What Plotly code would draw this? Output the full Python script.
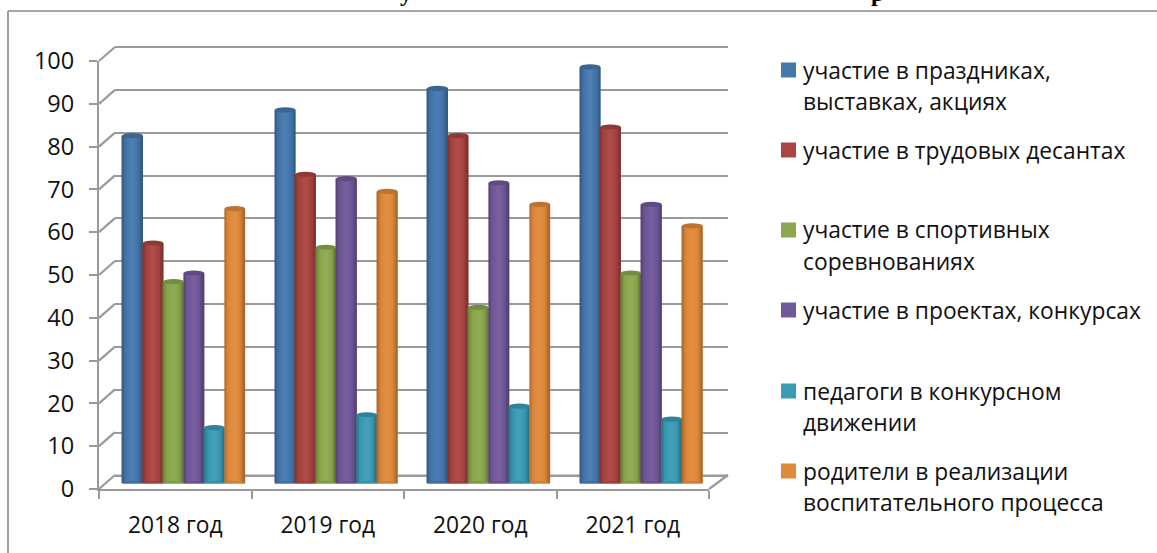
import plotly.graph_objects as go

W, H = 1157, 553
categories = ["2018 год", "2019 год", "2020 год", "2021 год"]
series_names = [
    "участие в праздниках, выставках, акциях",
    "участие в трудовых десантах",
    "участие в спортивных соревнованиях",
    "участие в проектах, конкурсах",
    "педагоги в конкурсном движении",
    "родители в реализации воспитательного процесса",
]
v_prazdniki = [81, 87, 92, 97]
v_trud = [56, 72, 81, 83]
v_sport = [47, 55, 41, 49]
v_proekty = [49, 71, 70, 65]
v_pedagogi = [13, 16, 18, 15]
v_roditeli = [64, 68, 65, 60]
series_values = [v_prazdniki, v_trud, v_sport, v_proekty, v_pedagogi, v_roditeli]
y_ticks = list(range(0, 101, 10))

base_colors = ["#4678ae", "#ab4542", "#8ba84e", "#72599a", "#3b9bb5", "#e08a3c"]
legend_lines = [
    (70, ["участие в праздниках,", "выставках, акциях"]),
    (150, ["участие в трудовых десантах"]),
    (230, ["участие в спортивных", "соревнованиях"]),
    (310, ["участие в проектах, конкурсах"]),
    (391, ["педагоги в конкурсном", "движении"]),
    (471, ["родители в реализации", "воспитательного процесса"]),
]
FONT = "Open Sans"
GRID = "#9a9a9a"


def fx(px):
    return px / W


def fy(px):
    return 1 - px / H


def shade(hexc, f):
    r, g, b = (int(hexc[i:i + 2], 16) for i in (1, 3, 5))
    if f < 1:
        return f"rgb({int(r*f)},{int(g*f)},{int(b*f)})"
    t = f - 1
    return f"rgb({int(r+(255-r)*t)},{int(g+(255-g)*t)},{int(b+(255-b)*t)})"


# strip shading across each cylinder (left edge -> right edge)
profile = [0.78, 0.9, 0.98, 1.0, 1.03, 1.05, 1.04, 1.0, 0.97, 0.89, 0.76]
n_strips = len(profile)
bar_w = 0.134
start = -0.402

fig = go.Figure()
shapes = []

# front axes carry the labels and ticks
fig.add_trace(go.Scatter(x=categories, y=[None] * 4, xaxis="x", yaxis="y", mode="lines",
                         showlegend=False, hoverinfo="skip"))
# back wall floor edge
fig.add_trace(go.Scatter(x=[0, 1], y=[0, 0], xaxis="x2", yaxis="y2", mode="lines",
                         line=dict(color=GRID, width=2.2), showlegend=False, hoverinfo="skip"))

for i, (name, vals, col) in enumerate(zip(series_names, series_values, base_colors)):
    off = start + i * bar_w
    fig.add_trace(go.Bar(name=name, x=categories, y=vals, width=bar_w, offset=off,
                         marker=dict(color=col, line=dict(width=0)),
                         xaxis="x3", yaxis="y3", showlegend=False))
    for j, f in enumerate(profile):
        sw = bar_w / n_strips
        fig.add_trace(go.Bar(x=categories, y=vals, width=sw * 1.05, offset=off + j * sw,
                             marker=dict(color=shade(col, f), line=dict(width=0)),
                             xaxis="x3", yaxis="y3", showlegend=False, hoverinfo="skip"))
    for k, v in enumerate(vals):
        x0, x1 = k + off, k + off + bar_w
        shapes.append(dict(type="circle", xref="x3", yref="y3", x0=x0, x1=x1, y0=v - 0.6, y1=v + 0.6,
                           fillcolor=shade(col, 0.84), line=dict(width=0), layer="above"))
        shapes.append(dict(type="circle", xref="x3", yref="y3", x0=x0, x1=x1, y0=-0.6, y1=0.6,
                           fillcolor=shade(col, 0.92), line=dict(width=0), layer="above"))

# depth lines joining the front axis to the back wall
for t in y_ticks:
    py = 489 - t * 4.28
    shapes.append(dict(type="line", xref="paper", yref="paper", x0=fx(99), x1=fx(115), y0=fy(py), y1=fy(py - 14),
                       line=dict(color=GRID, width=2.2), layer="below"))
shapes.append(dict(type="line", xref="paper", yref="paper", x0=fx(709), x1=fx(728), y0=fy(489), y1=fy(475),
                   line=dict(color=GRID, width=2.2), layer="below"))
# outer frame, open on the right and at the bottom
shapes.append(dict(type="line", xref="paper", yref="paper", x0=fx(8), x1=fx(8), y0=fy(11), y1=0,
                   line=dict(color="#8a8a8a", width=1.6)))
shapes.append(dict(type="line", xref="paper", yref="paper", x0=fx(8), x1=1, y0=fy(11), y1=fy(11),
                   line=dict(color="#8a8a8a", width=1.6)))

annotations = []
for (yc, lines), col in zip(legend_lines, base_colors):
    shapes.append(dict(type="rect", xref="paper", yref="paper", x0=fx(781), x1=fx(796), y0=fy(yc + 7.5), y1=fy(yc - 7.5),
                       fillcolor=col, line=dict(width=0)))
    for n, line in enumerate(lines):
        annotations.append(dict(text=line, xref="paper", yref="paper", x=fx(801), y=fy(yc + n * 31.5),
                                xanchor="left", yanchor="middle", showarrow=False,
                                font=dict(family=FONT, size=22.8, color="#111111")))

# clipped remnants of the heading above the chart frame
for ch, px in (("у", 406), ("р", 877)):
    annotations.append(dict(text=f"<b>{ch}</b>", xref="paper", yref="paper", x=fx(px), y=fy(-7),
                            xanchor="center", yanchor="middle", showarrow=False,
                            font=dict(family="Liberation Serif", size=24, color="black")))

px_per_unit = 4.285
fig.update_layout(
    width=W, height=H, margin=dict(l=0, r=0, t=0, b=0, autoexpand=False), autosize=False,
    paper_bgcolor="white", plot_bgcolor="rgba(0,0,0,0)", barmode="overlay",
    shapes=shapes, annotations=annotations, showlegend=False,
    xaxis=dict(type="category", categoryorder="array", categoryarray=categories, domain=[fx(99), fx(709)],
               range=[-0.5, 3.5], tickson="boundaries", ticks="outside", ticklen=8, tickwidth=2, tickcolor=GRID,
               showline=True, linecolor=GRID, linewidth=2.2, showgrid=False, anchor="y",
               tickfont=dict(family=FONT, size=22.8, color="#111111"), ticklabelstandoff=15),
    yaxis=dict(range=[0, 100], domain=[fy(489), fy(61)], tickmode="array", tickvals=y_ticks,
               ticks="outside", ticklen=8, tickwidth=2, tickcolor=GRID, showline=True, linecolor=GRID, linewidth=2.2,
               showgrid=False, zeroline=False, anchor="x", ticklabelstandoff=10,
               tickfont=dict(family=FONT, size=23.5, color="#111111")),
    # back wall gridlines; range padded so the 100 line is drawn
    xaxis2=dict(domain=[fx(115), fx(728)], range=[0, 1], visible=False, anchor="y2"),
    yaxis2=dict(range=[-1, 101], domain=[fy(475.5 + px_per_unit), fy(47 - px_per_unit)],
                anchor="x2", side="left", tickmode="array", tickvals=y_ticks, showticklabels=False, ticks="",
                showgrid=True, gridcolor=GRID, gridwidth=2.2, zeroline=False, showline=False),
    # bars stand at mid-depth of the floor, in front of the back wall
    xaxis3=dict(type="category", categoryorder="array", categoryarray=categories, domain=[fx(107.5), fx(717.5)],
                range=[-0.5, 3.5], visible=False, anchor="y3"),
    yaxis3=dict(range=[0, 100], domain=[fy(483.5), fy(54)], visible=False, anchor="x3"),
)

fig.write_html("out.html", config=dict(displayModeBar=False),
               post_script="document.body.style.margin='0';document.body.style.overflow='hidden';")
